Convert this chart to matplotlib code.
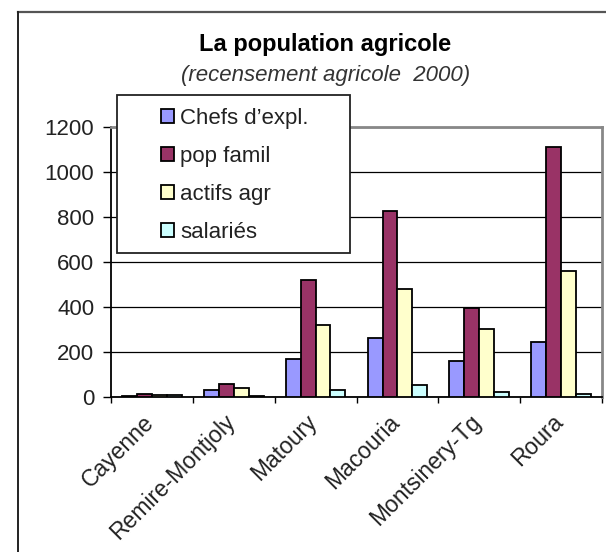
import numpy as np
import matplotlib.pyplot as plt
from matplotlib.patches import Patch, Rectangle
from matplotlib.lines import Line2D

communes = ["Cayenne", "Remire-Montjoly", "Matoury", "Macouria", "Montsinery-Tg", "Roura"]
chefs = [5, 31, 167, 262, 160, 246]
pop_famil = [15, 59, 520, 827, 395, 1111]
actifs = [8, 39, 320, 480, 302, 560]
salaries = [8, 6, 30, 53, 21, 13]

series = [
    ("Chefs d’expl.", chefs, "#9999FF"),
    ("pop famil", pop_famil, "#993366"),
    ("actifs agr", actifs, "#FFFFCC"),
    ("salariés", salaries, "#CCFFFF"),
]

plt.rcParams['font.family'] = ['Liberation Sans', 'DejaVu Sans']

W, H = 606, 552
fig = plt.figure(figsize=(W/100, H/100), dpi=100)
ax = fig.add_axes([111/W, 1-397/H, 491/W, 270/H])

# chart frame (runs off the page on the right and bottom)
fig.add_artist(Line2D([18/W, 1.0], [1-12/H, 1-12/H], color="#555555", lw=1.6,
                      transform=fig.transFigure))
fig.add_artist(Line2D([18/W, 18/W], [1-12/H, 0.0], color="#222222", lw=1.4,
                      transform=fig.transFigure))

x = np.arange(len(communes))
w = 1/5.5
for i, (name, vals, col) in enumerate(series):
    ax.bar(x + (i - 1.5)*w, vals, w, color=col, edgecolor="black", linewidth=1.3, zorder=3)

ax.set_xlim(-0.5, len(communes) - 0.5)
ax.set_ylim(0, 1200)
ax.set_yticks(range(0, 1201, 200))
ax.yaxis.grid(True, color="black", linewidth=0.9, zorder=0)
ax.set_xticks(np.arange(-0.5, len(communes), 1.0))
ax.set_xticklabels([])
ax.tick_params(axis="x", length=4.5, width=1, direction="out")
ax.tick_params(axis="y", length=6, width=1, direction="out", labelsize=16, pad=6,
               labelcolor="#222222")
for i, c in enumerate(communes):
    ax.text(i - 0.12, -60, c, rotation=45, ha="right", va="top", rotation_mode="anchor",
            fontsize=16.5, color="#222222")

for s in ["top", "right"]:
    ax.spines[s].set_color("#888888")
    ax.spines[s].set_linewidth(2)
for s in ["left", "bottom"]:
    ax.spines[s].set_color("black")
    ax.spines[s].set_linewidth(1.3)

fig.text(325/W, 1-45/H, "La population agricole", ha="center", va="center",
         fontsize=17, fontweight="bold")
fig.text(326/W, 1-76/H, "(recensement agricole  2000)", ha="center", va="center",
         fontsize=16, style="italic", color="#333333")

# legend box
fig.add_artist(Rectangle((117/W, 1-253/H), 233/W, 158/H, transform=fig.transFigure,
                         facecolor="white", edgecolor="#222222", linewidth=1.3, zorder=9))
handles = [Patch(facecolor=col, edgecolor="black", linewidth=1.3, label=name)
           for name, vals, col in series]
leg = fig.legend(handles=handles, loc="upper left", bbox_to_anchor=(161/W, 1-108/H),
                 fontsize=16, frameon=False, handlelength=0.59, handleheight=0.59,
                 handletextpad=0.28, labelspacing=0.76, borderpad=0, borderaxespad=0)
for t in leg.get_texts():
    t.set_color("#222222")
leg.set_zorder(10)

fig.savefig("out.png", dpi=100)
